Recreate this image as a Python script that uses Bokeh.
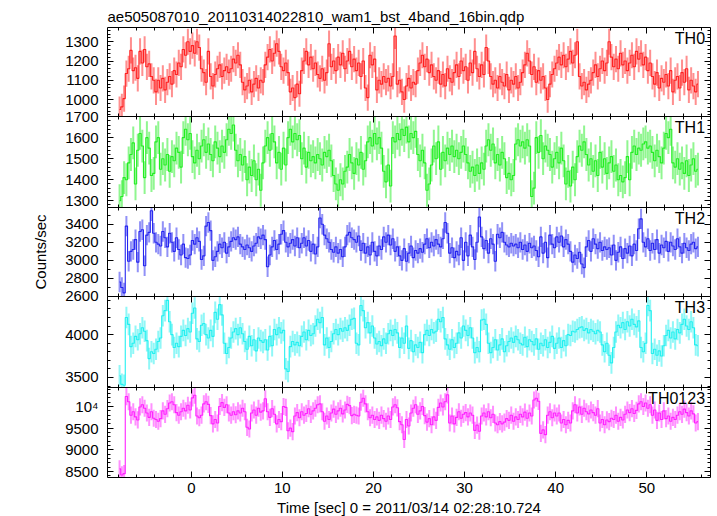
from bokeh.plotting import figure
from bokeh.layouts import column
from bokeh.models import (Range1d, LinearAxis, SingleIntervalTicker, Label, ColumnDataSource,
                          CustomLabelingPolicy)
from bokeh.embed import file_html
from bokeh.resources import INLINE

# ---------------- data (count rates, 0.25 s bins starting at t = -8 s) ----------------
T_START = -8.0
BIN_WIDTH = 0.25

TH0 = [
    948, 962, 1005, 1135, 1160, 1255, 1150, 1165, 1110, 1250, 1190, 1260, 1170, 1185, 1120, 1100,
    1040, 1100, 1060, 1110, 1050, 1090, 1120, 1080, 1150, 1130, 1190, 1170, 1260, 1230, 1300, 1250,
    1280, 1240, 1300, 1270, 1160, 1140, 1090, 1250, 1120, 1070, 1130, 1160, 1180, 1120, 1150, 1170,
    1140, 1160, 1210, 1190, 1230, 1180, 1090, 1050, 1070, 1100, 1040, 1080, 1110, 1060, 1100, 1090,
    1180, 1220, 1260, 1200, 1240, 1290, 1250, 1170, 1150, 1190, 1140, 1040, 1060, 1010, 1080, 1030,
    1150, 1200, 1250, 1180, 1220, 1160, 1190, 1130, 1110, 1160, 1100, 1140, 1290, 1170, 1200, 1150,
    1220, 1180, 1240, 1160, 1200, 1250, 1170, 1210, 1150, 1190, 1120, 1200, 1060, 1010, 1230, 1180,
    1210, 1050, 1100, 1080, 1120, 1090, 1110, 1070, 1120, 1330, 1080, 1100, 1040, 1000, 1070, 1110,
    1060, 1090, 1080, 1150, 1190, 1230, 1170, 1210, 1140, 1180, 1120, 1100, 1150, 1080, 1130, 1070,
    1160, 1110, 1090, 1140, 1180, 1120, 1200, 1150, 1170, 1100, 1190, 1140, 1250, 1160, 1120, 1180,
    1130, 1270, 1200, 1120, 1080, 1100, 1060, 1120, 1090, 1070, 1130, 1050, 1100, 1080, 1120, 1060,
    1090, 1140, 1180, 1240, 1200, 1130, 1170, 1090, 1150, 1100, 1120, 1060, 1000, 1080, 1130, 1160,
    1190, 1220, 1180, 1230, 1170, 1210, 1250, 1190, 1230, 1300, 1120, 1070, 1090, 1050, 1080, 1100,
    1140, 1180, 1120, 1160, 1200, 1150, 1190, 1300, 1220, 1170, 1210, 1160, 1240, 1180, 1200, 1150,
    1190, 1230, 1170, 1250, 1210, 1240, 1180, 1220, 1150, 1190, 1120, 1080, 1140, 1060, 1110, 1090,
    1130, 1070, 1150, 1040, 1100, 1120, 1060, 1140, 1090, 1160, 1050, 1100, 1070, 1040, 1080,
]

TH1 = [
    1300, 1320, 1410, 1400, 1480, 1520, 1575, 1380, 1540, 1620, 1560, 1410, 1600, 1550, 1420, 1430,
    1580, 1600, 1450, 1500, 1470, 1520, 1440, 1510, 1490, 1550, 1530, 1460, 1600, 1640, 1590, 1620,
    1510, 1480, 1540, 1500, 1560, 1590, 1530, 1570, 1520, 1490, 1580, 1550, 1510, 1560, 1530, 1590,
    1640, 1620, 1660, 1540, 1490, 1520, 1470, 1510, 1400, 1460, 1420, 1490, 1400, 1450, 1350, 1480,
    1560, 1600, 1540, 1620, 1580, 1480, 1530, 1450, 1550, 1470, 1600, 1640, 1580, 1620, 1590, 1610,
    1500, 1550, 1460, 1530, 1490, 1510, 1480, 1520, 1500, 1470, 1530, 1510, 1540, 1490, 1420, 1380,
    1350, 1400, 1380, 1440, 1460, 1520, 1480, 1430, 1500, 1470, 1530, 1450, 1490, 1580, 1600, 1560,
    1620, 1570, 1600, 1550, 1440, 1390, 1470, 1370, 1600, 1580, 1620, 1590, 1640, 1610, 1650, 1580,
    1620, 1600, 1630, 1520, 1490, 1540, 1480, 1350, 1380, 1470, 1560, 1500, 1580, 1450, 1530, 1490,
    1550, 1520, 1560, 1510, 1540, 1500, 1530, 1560, 1520, 1480, 1440, 1460, 1420, 1470, 1430, 1480,
    1450, 1560, 1590, 1540, 1570, 1480, 1520, 1470, 1530, 1500, 1410, 1430, 1400, 1420, 1570, 1590,
    1560, 1580, 1550, 1590, 1560, 1320, 1360, 1600, 1530, 1610, 1500, 1560, 1540, 1520, 1460, 1500,
    1530, 1480, 1550, 1490, 1380, 1440, 1370, 1460, 1400, 1510, 1560, 1540, 1580, 1520, 1470, 1500,
    1440, 1490, 1420, 1530, 1460, 1500, 1430, 1480, 1510, 1440, 1470, 1400, 1420, 1390, 1410, 1510,
    1400, 1530, 1560, 1520, 1550, 1540, 1570, 1580, 1550, 1560, 1530, 1490, 1540, 1510, 1480, 1550,
    1620, 1600, 1640, 1480, 1460, 1500, 1450, 1480, 1430, 1490, 1420, 1470, 1500, 1440, 1450,
]

TH2 = [
    2760, 2700, 2640, 3380, 2990, 3100, 3120, 3230, 2980, 3320, 3340, 2940, 3280, 3310, 3550, 3300,
    3200, 3180, 3160, 3320, 3250, 3150, 3300, 3200, 3100, 3250, 3120, 3060, 3180, 3030, 3020, 3060,
    3220, 3180, 3250, 3210, 3010, 3050, 3380, 3420, 3330, 3000, 3040, 3100, 3180, 3140, 3200, 3080,
    3150, 3210, 3250, 3230, 3260, 3180, 3150, 3120, 3170, 3140, 3100, 3160, 3190, 3260, 3240, 3280,
    3230, 2930, 3060, 3150, 3220, 3120, 3180, 3290, 3330, 3200, 3150, 3190, 3230, 3160, 3250, 3140,
    3190, 3250, 3160, 3220, 3100, 3180, 3070, 3150, 3470, 3400, 3280, 3240, 3200, 3120, 3090, 3150,
    3080, 3120, 3040, 3150, 3280, 3310, 3250, 3230, 3200, 3270, 3110, 3190, 3080, 3150, 3060, 3200,
    3100, 3050, 3160, 3120, 3260, 3200, 3280, 3170, 3240, 3100, 3150, 3050, 3000, 3130, 2990, 3080,
    3160, 3030, 3110, 3080, 3130, 3090, 3180, 3240, 3140, 3200, 3160, 3230, 3180, 3150, 3240, 3420,
    3300, 3080, 3140, 3030, 3100, 3060, 3250, 3000, 3200, 3050, 3280, 3150, 3010, 3200, 3480, 3260,
    3130, 3220, 3080, 3240, 3180, 2990, 3290, 3250, 3310, 3200, 3170, 3150, 3190, 3160, 3180, 3140,
    3200, 3120, 3170, 3100, 3190, 3140, 3160, 3110, 3040, 3260, 3080, 3200, 3030, 3280, 3180, 3140,
    3260, 3200, 3270, 3150, 3230, 3180, 3100, 2980, 3060, 3020, 3090, 2960, 2920, 3150, 3220, 3100,
    3240, 3180, 3130, 3200, 3110, 3150, 3120, 3140, 3060, 3170, 3000, 3090, 3150, 3020, 3130, 3080,
    3160, 3050, 3180, 3110, 3350, 3460, 3200, 3150, 3240, 3110, 3190, 3120, 3230, 3080, 3170, 3140,
    3210, 3100, 3200, 3160, 3120, 3240, 3150, 3080, 3190, 3140, 3110, 3180, 3200, 3130, 3150,
]

TH3 = [
    3520, 3420, 3410, 4200, 4120, 3860, 3900, 3980, 3940, 4010, 4080, 4040, 3930, 3720, 3800, 3780,
    3830, 3920, 3960, 4220, 4280, 4400, 4150, 4000, 3850, 3900, 3860, 3980, 4050, 3990, 4070, 4030,
    4250, 4310, 3950, 3920, 4110, 4130, 4000, 3960, 4050, 3980, 4260, 4180, 4350, 4230, 3900, 3780,
    3850, 3960, 4030, 4070, 4000, 4080, 4010, 3920, 3830, 3980, 3870, 3940, 3810, 3960, 3930, 3910,
    3940, 3820, 3980, 3870, 4060, 4000, 4080, 4020, 4050, 3600, 3570, 3860, 3920, 3880, 3910, 3870,
    3980, 4030, 3940, 4050, 3990, 4010, 4100, 4180, 4140, 4200, 3880, 3960, 3850, 3920, 4010, 4060,
    4000, 4070, 4040, 4080, 4050, 4110, 4180, 4190, 3900, 3880, 4340, 4280, 4080, 4140, 4020, 4100,
    3960, 3890, 3920, 3870, 3950, 3900, 4010, 4050, 3990, 4060, 4020, 3850, 3960, 3900, 4100, 3840,
    3930, 3800, 3880, 3850, 3910, 3790, 4000, 4050, 3990, 4060, 4020, 4040, 4180, 4150, 4200, 3950,
    3880, 3830, 3940, 3850, 3900, 4020, 3960, 4100, 4050, 3990, 4080, 3960, 3790, 3850, 3800, 4170,
    4180, 4120, 3900, 3790, 3850, 3940, 3820, 3880, 3950, 3800, 3870, 3920, 3960, 3910, 3980, 3940,
    3900, 3880, 3970, 3860, 3940, 3920, 3880, 3950, 3830, 3900, 3870, 3940, 3850, 3910, 3980, 3840,
    3900, 3960, 3850, 3930, 3870, 4000, 3990, 4040, 4030, 4060, 4080, 4090, 4050, 4070, 4020, 4060,
    4040, 4010, 4050, 4030, 3880, 3800, 3900, 3760, 3670, 3850, 4030, 4110, 4080, 4140, 4060, 4150,
    4100, 4180, 4120, 4090, 4160, 3850, 3800, 3900, 4340, 4280, 3780, 3830, 3760, 3810, 3750, 3870,
    3990, 4050, 3960, 4030, 3950, 4060, 4020, 4120, 4180, 4100, 4060, 4150, 4080, 3880, 3870,
]

TH0123 = [
    8560, 8420, 8450, 10230, 10110, 9800, 9880, 9760, 9690, 9990, 10040, 9960, 9850, 9750, 9880, 9730,
    9700, 9660, 9720, 9900, 9820, 9950, 10080, 10110, 10040, 9860, 9800, 9880, 9960, 9900, 10030, 9920,
    10200, 10260, 9780, 9740, 9800, 10060, 10110, 10050, 9790, 9600, 9700, 9620, 10000, 10090, 9980, 10040,
    9850, 9800, 9880, 9810, 9900, 9850, 9960, 9880, 9520, 9480, 9850, 9920, 9800, 9960, 9870, 9900,
    10180, 9880, 9750, 9950, 9820, 9600, 9700, 9650, 10000, 9980, 9440, 9500, 9420, 9780, 9860, 9740,
    9880, 9800, 9840, 9950, 9820, 9900, 9960, 10040, 10060, 9880, 9660, 9780, 9700, 9850, 9940, 9820,
    9900, 9960, 9830, 9920, 10050, 10020, 9790, 9820, 9800, 9780, 10100, 10190, 10060, 9880, 9740, 9800,
    9700, 9760, 9680, 9800, 9720, 9660, 9780, 9700, 9990, 10040, 9970, 9650, 9580, 9240, 9700, 9550,
    9850, 9960, 10040, 9820, 9900, 10000, 9790, 9640, 9720, 9580, 9760, 9680, 9980, 10080, 9990, 10110,
    10270, 9620, 9780, 9600, 9750, 9880, 9730, 9820, 9860, 9760, 9850, 9800, 9450, 9570, 9430, 9780,
    9850, 9760, 9880, 9740, 9820, 9620, 9580, 9650, 9600, 9640, 9720, 9680, 9800, 9660, 9760, 9700,
    9820, 9760, 9870, 9730, 9850, 9780, 10150, 10190, 10120, 9380, 9460, 9350, 9800, 9880, 9740, 9850,
    9780, 9850, 9620, 9700, 9580, 9680, 9620, 9900, 10040, 9850, 9990, 9820, 9960, 9880, 9830, 9920,
    9860, 9800, 9950, 9620, 9700, 9580, 9690, 9650, 9730, 9700, 9800, 9660, 9750, 9690, 9820, 9920,
    9860, 9950, 9840, 9910, 10060, 10110, 10000, 10080, 9960, 10040, 9800, 9920, 9680, 9850, 9700, 9900,
    9720, 9780, 9660, 9750, 9700, 9800, 9880, 9820, 9940, 9860, 9780, 9900, 9830, 9620, 9650,
]

CHANNELS = ["TH0", "TH1", "TH2", "TH3", "TH0123"]
TYPICAL_ERROR = [68, 78, 113, 126, 198]
Y_TICK_OVERRIDES = {10000: "10\u2074"}

TITLE = "ae505087010_20110314022810_wam1_bst_4band_16bin.qdp"
X_LABEL = "Time [sec] 0 = 2011/03/14 02:28:10.724"
Y_LABEL = "Counts/sec"

# ---------------- styling / layout ----------------
FONT = "Liberation Sans"
COLORS = ["#ff2020", "#22ee22", "#2424f0", "#22f0f0", "#ff22ff"]
SERIES = [TH0, TH1, TH2, TH3, TH0123]
# (y start, y end, major interval, minor intervals, frame height)
PANELS = [
    (912, 1374, 100, 5, 89),
    (1268, 1700.5, 100, 5, 91),
    (2599.5, 3586, 200, 2, 89),
    (3383, 4445, 500, 5, 91),
    (8361, 10439, 500, 5, 90),
]
B = 12
X_RANGE = Range1d(-9.2, 57.0)

HIDE_LABELS_JS = """
try { for (let i = 0; i < indices.size; i++) { indices.unset(i) } } catch (e) {}
return indices
"""


def style_axis(ax, labels):
    ax.axis_line_color = "black"
    ax.axis_line_width = 1
    ax.major_tick_in = 6
    ax.major_tick_out = 0
    ax.minor_tick_in = 3
    ax.minor_tick_out = 0
    ax.major_tick_line_color = "black"
    ax.minor_tick_line_color = "black"
    if labels:
        ax.major_label_text_font = FONT
        ax.major_label_text_font_size = "15px"
        ax.major_label_text_color = "black"
    else:
        ax.major_label_text_font_size = "0px"
        ax.major_label_standoff = 0
        ax.major_label_policy = CustomLabelingPolicy(code=HIDE_LABELS_JS)


figs = []
for k, (vals, color, name, err, cfg) in enumerate(zip(SERIES, COLORS, CHANNELS, TYPICAL_ERROR, PANELS)):
    ylo, yhi, ymaj, ymin, fh = cfg
    top = 27 if k == 0 else B
    bottom = 38 if k == 4 else B
    p = figure(frame_width=603, frame_height=fh, x_range=X_RANGE, y_range=Range1d(ylo, yhi),
               output_backend="svg", toolbar_location=None,
               x_axis_location=None, y_axis_location=None,
               min_border_left=107, min_border_right=6,
               min_border_top=top, min_border_bottom=bottom,
               border_fill_color=None, background_fill_color="white",
               outline_line_color=None)
    if k > 0:
        p.margin = (-2 * B, 0, 0, 0)
    p.grid.visible = False

    if k == 0:
        p.title.text = TITLE
        p.title.text_font = FONT
        p.title.text_font_size = "15px"
        p.title.text_font_style = "normal"
        p.title.text_color = "black"
        p.title.align = "left"
        p.title.standoff = 5

    n = len(vals)
    tc = [T_START + BIN_WIDTH * (i + 0.5) for i in range(n)]
    src = ColumnDataSource(dict(t=tc, y=vals,
                                lo=[v - err for v in vals],
                                hi=[v + err for v in vals]))
    p.segment(x0="t", y0="lo", x1="t", y1="hi", source=src,
              line_color=color, line_alpha=0.5, line_width=2.0)
    p.step(x="t", y="y", source=src, mode="center", line_color=color, line_width=1.1)

    # axes on all four sides, ticks pointing inwards
    left = LinearAxis(ticker=SingleIntervalTicker(interval=ymaj, num_minor_ticks=ymin))
    style_axis(left, True)
    left.major_label_standoff = 9
    if k == 4:
        left.major_label_overrides = Y_TICK_OVERRIDES
    if k == 2:
        left.axis_label = Y_LABEL
        left.axis_label_text_font = FONT
        left.axis_label_text_font_size = "15px"
        left.axis_label_text_font_style = "normal"
        left.axis_label_text_color = "black"
        left.axis_label_standoff = 13
    p.add_layout(left, "left")

    right = LinearAxis(ticker=SingleIntervalTicker(interval=ymaj, num_minor_ticks=ymin))
    style_axis(right, False)
    p.add_layout(right, "right")

    above = LinearAxis(ticker=SingleIntervalTicker(interval=10, num_minor_ticks=5))
    style_axis(above, False)
    p.add_layout(above, "above")

    below = LinearAxis(ticker=SingleIntervalTicker(interval=10, num_minor_ticks=5))
    style_axis(below, k == 4)
    if k == 4:
        below.major_label_standoff = 5
        below.axis_label = X_LABEL
        below.axis_label_text_font = FONT
        below.axis_label_text_font_size = "15px"
        below.axis_label_text_font_style = "normal"
        below.axis_label_text_color = "black"
        below.axis_label_standoff = 3
    p.add_layout(below, "below")

    p.add_layout(Label(x=56.4, y=yhi, text=name, text_align="right", text_baseline="top",
                       y_offset=-2, text_font=FONT, text_font_size="16px", text_color="black"))
    figs.append(p)

layout = column(*figs)

with open("out.html", "w") as f:
    f.write(file_html(layout, INLINE))
